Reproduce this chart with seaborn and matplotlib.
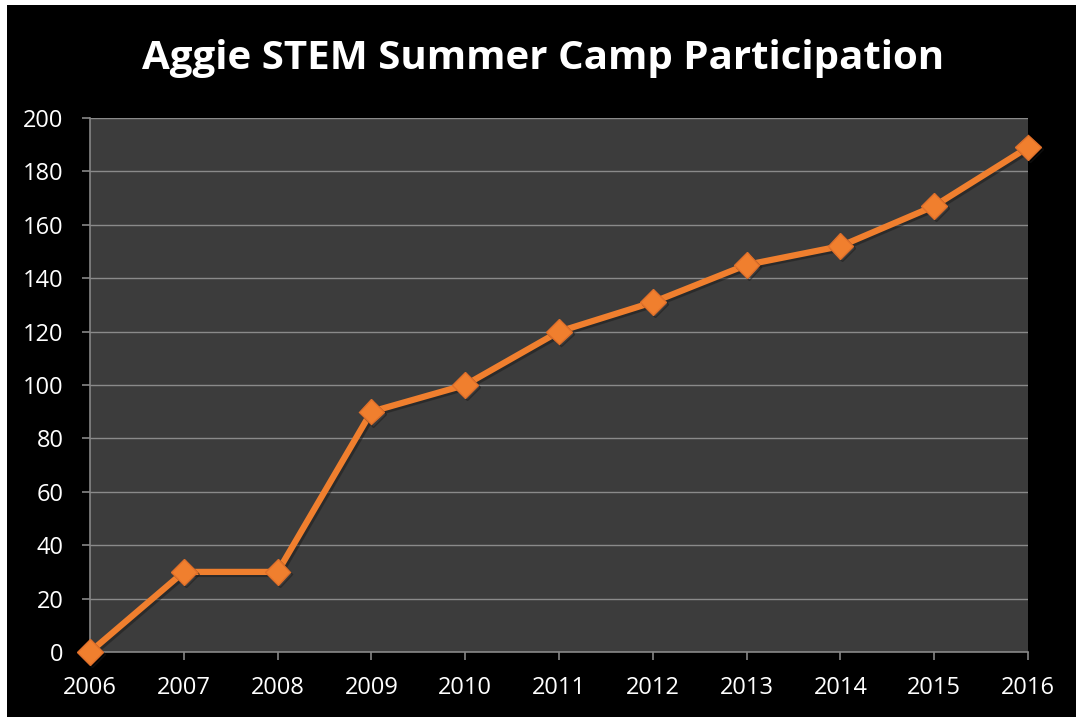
import matplotlib
matplotlib.use("Agg")
import matplotlib.pyplot as plt
import matplotlib.patheffects as pe
from matplotlib.patches import Rectangle
import seaborn as sns
import pandas as pd

years = [2006, 2007, 2008, 2009, 2010, 2011, 2012, 2013, 2014, 2015, 2016]
participants = [0, 30, 30, 90, 100, 120, 131, 145, 152, 167, 189]
y_ticks = [0, 20, 40, 60, 80, 100, 120, 140, 160, 180, 200]
title = "Aggie STEM Summer Camp Participation"

sns.set_theme(style="dark")
plt.rcParams["font.family"] = ["Open Sans", "DejaVu Sans"]

df = pd.DataFrame({"year": years, "count": participants})

fig = plt.figure(figsize=(10.76, 7.17), dpi=100, facecolor="white")
# black slide background with thin white strip at top / left
fig.patches.append(Rectangle((7 / 1076, -0.01), 1, 1.01 - 5 / 717, transform=fig.transFigure,
                             facecolor="black", edgecolor="none", zorder=-10))

ax = fig.add_axes([90 / 1076, 1 - 652 / 717, (1028 - 90) / 1076, (652 - 118) / 717])
ax.set_facecolor("#3c3c3c")

sns.lineplot(data=df, x="year", y="count", ax=ax, color="#f07f2e", linewidth=4.5,
             marker="D", markersize=13, markeredgecolor="#e0702a", markeredgewidth=1,
             path_effects=[pe.SimpleLineShadow(offset=(1.5, -1.5), alpha=0.5), pe.Normal()],
             zorder=5, clip_on=False)

ax.set_xlim(2006, 2016)
ax.set_ylim(0, 200)
ax.set_xticks(years)
ax.set_xticklabels([str(y) for y in years])
ax.set_yticks(y_ticks)
ax.set_xlabel("")
ax.set_ylabel("")

ax.grid(axis="y", color="#8a8a8a", linewidth=1)
ax.grid(axis="x", visible=False)

for side in ["top", "right"]:
    ax.spines[side].set_visible(False)
for side in ["left", "bottom"]:
    ax.spines[side].set_visible(True)
    ax.spines[side].set_color("#868686")
    ax.spines[side].set_linewidth(1.2)

ax.tick_params(axis="both", colors="#868686", labelcolor="white", labelsize=17,
               length=6, width=1.2, direction="out")
ax.tick_params(axis="x", bottom=True, pad=11)
ax.tick_params(axis="y", left=True, pad=13)

fig.text(0.505, 1 - 59 / 717, title, ha="center", va="center", color="white",
         fontsize=29, fontweight="bold")

fig.savefig("out.png", dpi=100, facecolor=fig.get_facecolor())
